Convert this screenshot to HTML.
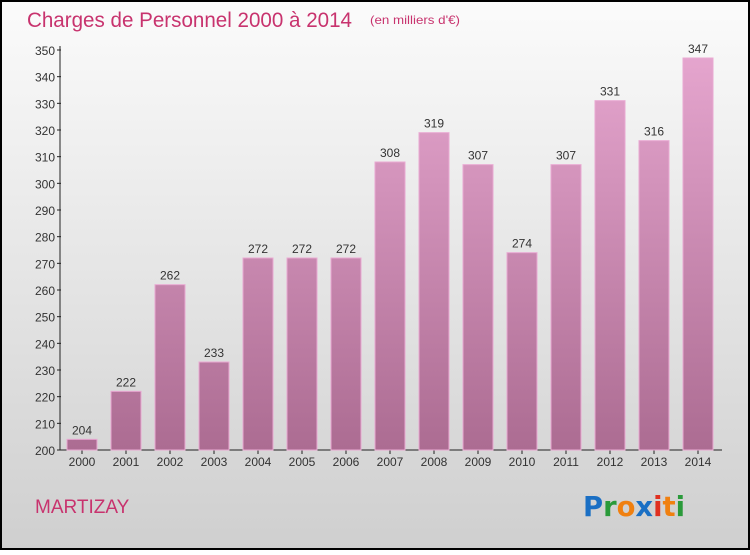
<!DOCTYPE html>
<html><head><meta charset="utf-8"><style>
html,body{margin:0;padding:0}
body{width:750px;height:550px;overflow:hidden;font-family:"Liberation Sans","DejaVu Sans",sans-serif}
</style></head><body>
<svg width="750" height="550" xmlns="http://www.w3.org/2000/svg">
<defs>
<linearGradient id="bg" x1="0" y1="0" x2="0" y2="1"><stop offset="0" stop-color="#fbfbfb"/><stop offset="1" stop-color="#cfcfcf"/></linearGradient>
<linearGradient id="bar" gradientUnits="userSpaceOnUse" x1="0" y1="50" x2="0" y2="450"><stop offset="0" stop-color="#e6a6cf"/><stop offset="1" stop-color="#ac6c92"/></linearGradient>
</defs>
<rect x="1" y="1" width="748" height="548" fill="url(#bg)" stroke="#000" stroke-width="2"/>
<text x="27" y="27" font-size="21" fill="#c8336e" textLength="325" lengthAdjust="spacingAndGlyphs">Charges de Personnel 2000 à 2014</text>
<text x="370" y="24" font-size="12" fill="#c8336e" textLength="90" lengthAdjust="spacingAndGlyphs">(en milliers d'€)</text>
<g id="axes"></g>
<g id="bars"></g>
<text x="35" y="513" font-size="19" fill="#c8336e">MARTIZAY</text>
<text x="583" y="516" font-size="28" font-family="'DejaVu Sans',sans-serif" font-weight="bold" textLength="102" lengthAdjust="spacingAndGlyphs"><tspan fill="#1a6fc4">P</tspan><tspan fill="#2a9a3a">r</tspan><tspan fill="#f08010">o</tspan><tspan fill="#1a6fc4">x</tspan><tspan fill="#e03020">i</tspan><tspan fill="#f08010">t</tspan><tspan fill="#2a9a3a">i</tspan></text>
</svg>
<script>
const years=["2000","2001","2002","2003","2004","2005","2006","2007","2008","2009","2010","2011","2012","2013","2014"];
const values=[204,222,262,233,272,272,272,308,319,307,274,307,331,316,347];
const yTicks=[200,210,220,230,240,250,260,270,280,290,300,310,320,330,340,350];
const NS="http://www.w3.org/2000/svg";
const y0=450,y1=50,vmin=200,vmax=350,x0=82,step=44,bw=30;
const ys=v=>y0-(v-vmin)/(vmax-vmin)*(y0-y1);
const xs=i=>x0+i*step;
function mk(t,a,p){const e=document.createElementNS(NS,t);for(const k in a)e.setAttribute(k,a[k]);p.appendChild(e);return e;}
const ax=document.getElementById('axes'),bg=document.getElementById('bars');
const yl=mk('line',{x1:60,y1:ys(vmax)-4,x2:60,y2:y0,stroke:'#222','stroke-width':1},ax);


const xl=mk('line',{x1:60,y1:y0,x2:722,y2:y0,stroke:'#222','stroke-width':1},ax);


yTicks.forEach(t=>{
 const y=ys(t);
 mk('line',{x1:57,y1:y,x2:61,y2:y,stroke:'#222'},ax);
 const tx=mk('text',{x:55,y:y+5,'font-size':12,'text-anchor':'end',fill:'#333'},ax);
 tx.textContent=t;
 
 
});
years.forEach((yr,i)=>{
 const x=xs(i),v=values[i],y=ys(v);
 const r=mk('rect',{x:x-bw/2,y:y,width:bw,height:y0-y,fill:'url(#bar)',stroke:'#e9a9d2','stroke-width':1},bg);
 
 
 const l=mk('text',{x:x,y:y-5,'font-size':12,'text-anchor':'middle',fill:'#333'},bg);
 l.textContent=v;
 
 
 mk('line',{x1:x,y1:y0,x2:x,y2:y0+4,stroke:'#222'},ax);
 const xt=mk('text',{x:x,y:y0+16,'font-size':12,'text-anchor':'middle',fill:'#333'},ax);
 xt.textContent=yr;
 
 
});
</script>
</body></html>
